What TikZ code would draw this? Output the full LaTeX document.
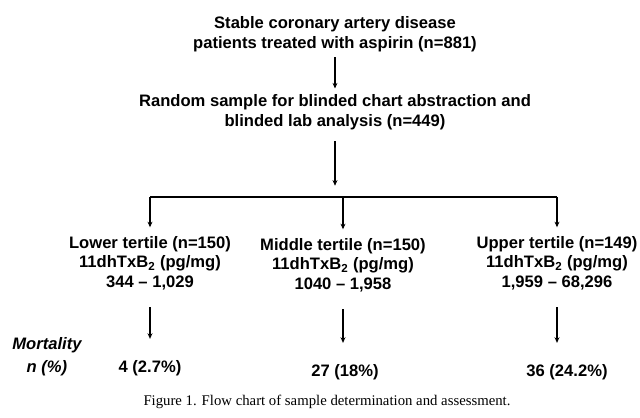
\documentclass[tikz,border=0pt]{standalone}
\usepackage{fontspec}
\setmainfont{Liberation Sans}
\newfontfamily\capfont{Liberation Serif}
\usetikzlibrary{arrows.meta}

\begin{document}
\begin{tikzpicture}[x=0.025cm,y=-0.025cm,
        txt/.style={font=\bfseries\fontsize{11.8}{14}\selectfont,align=center,inner sep=1pt},
        flow/.style={line width=1.6pt,-{Stealth[length=4pt,width=3.5pt]}},
        bar/.style={line width=1.6pt}]
        \useasboundingbox (0,0) rectangle (640,418);
        \node[txt] (cad) at (335,34) {Stable coronary artery disease\\patients treated with aspirin (n=881)};
        \node[txt] (samp) at (335,112) {Random sample for blinded chart abstraction and\\blinded lab analysis (n=449)};
        \coordinate (split) at (342,197);
        \node[txt] (low) at (150,263) {Lower tertile (n=150)\\11dhTxB\textsubscript{2} (pg/mg)\\344 -- 1,029};
        \node[txt] (mid) at (343,265) {Middle tertile (n=150)\\11dhTxB\textsubscript{2} (pg/mg)\\1040 -- 1,958};
        \node[txt] (up) at (557,263) {Upper tertile (n=149)\\11dhTxB\textsubscript{2} (pg/mg)\\1,959 -- 68,296};
        \node[txt,font=\bfseries\itshape\fontsize{11.8}{16.3}\selectfont] (mort) at (47,357) {Mortality\\n (\%)};
        \node[txt] (rlow) at (150,368) {4 (2.7\%)};
        \node[txt] (rmid) at (345,372) {27 (18\%)};
        \node[txt] (rup) at (567,372) {36 (24.2\%)};
        \node[font=\capfont\fontsize{10.5}{12}\selectfont] (cap) at (327,402) {Figure 1. Flow chart of sample determination and assessment.};
        % flow down
        \draw[flow,shorten <=3pt,shorten >=3pt] (cad.south) -- (samp.north);
        \draw[flow,shorten <=7pt,shorten >=8pt] (samp.south) -- (samp.south |- split);
        \draw[bar] (low.north |- split) -- (up.north |- split);
        \foreach \t in {low,mid,up}
          \draw[flow,shorten >=5pt] (\t.north |- split) -- (\t.north);
        \foreach \t/\r in {low/rlow,mid/rmid,up/rup}
          \draw[flow,shorten <=11pt,shorten >=14pt] (\t.south) -- (\t.south |- \r.north);
\end{tikzpicture}
\end{document}
